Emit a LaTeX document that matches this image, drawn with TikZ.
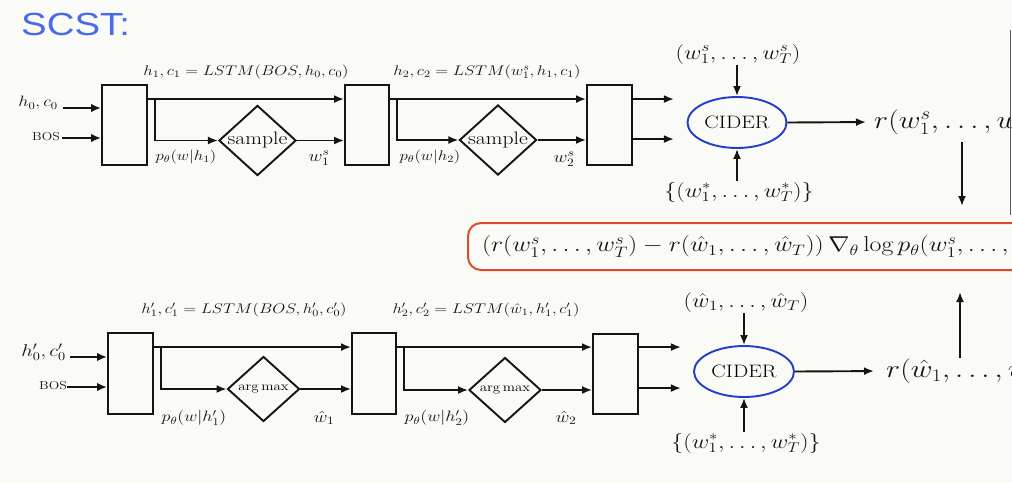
\documentclass[tikz,border=0pt]{standalone}
\usepackage{fix-cm}
\usepackage{fontspec}
\newfontfamily\titlefont{Liberation Sans}
\usetikzlibrary{arrows.meta,shapes.geometric,calc}
\definecolor{scstblue}{RGB}{75,105,235}
\definecolor{ciderblue}{RGB}{35,60,205}
\definecolor{fred}{RGB}{225,75,45}
\definecolor{bgcol}{RGB}{250,250,247}
\definecolor{ink}{RGB}{20,20,20}
\newcommand{\sx}[1]{\scalebox{1.2}[1]{#1}}
\newcommand{\fs}[1]{\fontsize{#1}{#1}\selectfont}
\tikzset{
  lnk/.style={line width=1.9pt, draw=ink, -{Latex[length=10pt,width=8pt]}},
  inlnk/.style={line width=2.6pt, draw=ink, -{Latex[length=10pt,width=8.5pt]}},
  cellbox/.style={draw=ink, line width=1.9pt, minimum width=45pt, minimum height=80pt, inner sep=0pt},
  decide/.style={diamond, draw=ink, line width=1.9pt, inner sep=0pt, minimum width=72pt, minimum height=65pt, aspect=1.1},
  cider/.style={ellipse, draw=ciderblue, line width=1.9pt, inner sep=0pt, minimum width=99pt, minimum height=51pt, font=\fs{18}},
  lbl/.style={inner sep=1pt, text=ink, font=\fs{14}},
  big/.style={inner sep=1pt, text=ink, font=\fs{20}},
}
\begin{document}
\begin{tikzpicture}[x=1pt,y=-1pt]
\useasboundingbox (0,0) rectangle (1012,483);
\clip (0,0) rectangle (1012,483);
\fill[bgcol] (0,0) rectangle (1012,483);
\draw[gray!70!black, line width=0.8pt] (1010.5,30) -- (1010.5,215);

% title
\node[anchor=west, inner sep=0pt, text=scstblue, font=\fs{32}\titlefont] (title) at (21,24) {\sx{SCST:}};

% ---------------- top row ----------------
\node[cellbox] (b1) at (124.5,125) {};
\node[cellbox, minimum width=44pt] (b2) at (367,125) {};
\node[cellbox] (b3) at (609.5,125) {};
\node[decide, font=\fs{18}] (d1) at (257.5,140.5) {\sx{sample}};
\node[decide, font=\fs{18}] (d2) at (498,140) {\sx{sample}};
\node[cider] (c1) at (737,122.5) {\sx{CIDER}};

\node[lbl, anchor=east, font=\fs{15}] (hc0) at (59,103) {\sx{$h_0, c_0$}};
\node[lbl, anchor=east, font=\fs{11.5}] (bos1) at (61,137) {\sx{BOS}};
\coordinate (i1) at (63,108);
\coordinate (i2) at (62,138);
\draw[inlnk] (i1) -- (i1 -| b1.west);
\draw[inlnk] (i2) -- (i2 -| b1.west);

\node[lbl] (lstm1) at (246,72) {\sx{$h_1, c_1 = LSTM(BOS, h_0, c_0)$}};
\node[lbl] (lstm2) at (487,72) {\sx{$h_2, c_2 = LSTM(w_1^s, h_1, c_1)$}};

\draw[lnk] ([yshift=-15pt]b1.north east) -- ([yshift=-15pt]b2.north west);
\draw[lnk] ([xshift=7pt,yshift=-15pt]b1.north east) |- (d1.west);
\draw[lnk] (d1.east) -- (d1.east -| b2.west);
\draw[lnk] ([yshift=-15pt]b2.north east) -- ([yshift=-15pt]b3.north west);
\draw[lnk] ([xshift=7pt,yshift=-15pt]b2.north east) |- (d2.west);
\draw[lnk] (d2.east) -- (d2.east -| b3.west);

\node[lbl] (p1) at (186,157) {\sx{$p_\theta(w|h_1)$}};
\node[lbl, font=\fs{16}] (w1) at (319,158) {\sx{$w_1^s$}};
\node[lbl] (p2) at (430,157) {\sx{$p_\theta(w|h_2)$}};
\node[lbl, font=\fs{16}] (w2) at (564,159) {\sx{$w_2^s$}};

\draw[lnk] ([yshift=-15pt]b3.north east) -- ++(41,0) coordinate (o1);
\draw[lnk] ([yshift=-55pt]b3.north east) -- ++(41,0) coordinate (o2);

\node[big] (samp) at (738,54) {\sx{$(w_1^s,\ldots,w_T^s)$}};
\node[big] (ref1) at (739,192) {\sx{$\{(w_1^*,\ldots,w_T^*)\}$}};
\draw[lnk] (c1.north |- samp.south) -- (c1.north);
\draw[lnk] (c1.south |- ref1.north) -- (c1.south);
\node[inner sep=0pt, anchor=west, text=ink, font=\fs{25}] (r1) at (874,122) {\sx{$r(w_1^s,\ldots,w_T^s)$}};
\draw[lnk, shorten >=8pt] (c1.east) -- (r1.west);

% ---------------- formula ----------------
\node[draw=fred, line width=2pt, rounded corners=13pt, anchor=west, minimum height=47pt, inner xsep=14pt, text=ink, font=\fs{21.5}] (fb) at (467,246.5)
  {\sx{$(r(w_1^s,\ldots,w_T^s)-r(\hat w_1,\ldots,\hat w_T))\,\nabla_\theta \log p_\theta(w_1^s,\ldots,w_T^s)$}};

\coordinate (dn) at (962,142);
\draw[lnk, shorten >=16pt] (dn) -- (dn |- fb.north);
\coordinate (up) at (960,358);
\draw[lnk, shorten >=21pt] (up) -- (up |- fb.south);

% ---------------- bottom row ----------------
\node[cellbox, minimum height=81pt] (e1) at (130.5,373.5) {};
\node[cellbox, minimum width=44pt, minimum height=81pt] (e2) at (374,373.5) {};
\node[cellbox] (e3) at (615.5,374) {};
\node[decide, font=\fs{12.5}] (f1) at (263.5,389) {\sx{$\arg\max$}};
\node[decide, font=\fs{12.5}] (f2) at (505,390) {\sx{$\arg\max$}};
\node[cider, minimum width=100pt] (c2) at (744,371.5) {\sx{CIDER}};

\node[lbl, anchor=east, font=\fs{17}] (hc0b) at (67,352) {\sx{$h_0', c_0'$}};
\node[lbl, anchor=east, font=\fs{11.5}] (bos2) at (68,386) {\sx{BOS}};
\coordinate (j1) at (70,357);
\coordinate (j2) at (67,387);
\draw[inlnk] (j1) -- (j1 -| e1.west);
\draw[inlnk] (j2) -- (j2 -| e1.west);

\node[lbl] (lstm3) at (244,310) {\sx{$h_1', c_1' = LSTM(BOS, h_0', c_0')$}};
\node[lbl] (lstm4) at (486,310) {\sx{$h_2', c_2' = LSTM(\hat w_1, h_1', c_1')$}};

\draw[lnk] ([yshift=-15pt]e1.north east) -- ([yshift=-15pt]e2.north west);
\draw[lnk] ([xshift=7pt,yshift=-15pt]e1.north east) |- (f1.west);
\draw[lnk] (f1.east) -- (f1.east -| e2.west);
\draw[lnk] ([yshift=-15pt]e2.north east) -- ([yshift=-14pt]e3.north west);
\draw[lnk] ([xshift=7pt,yshift=-15pt]e2.north east) |- (f2.west);
\draw[lnk] (f2.east) -- (f2.east -| e3.west);

\node[lbl, font=\fs{15}] (q1) at (194,418) {\sx{$p_\theta(w|h_1')$}};
\node[lbl, font=\fs{16}] (v1) at (324,418) {\sx{$\hat w_1$}};
\node[lbl, font=\fs{15}] (q2) at (437,418) {\sx{$p_\theta(w|h_2')$}};
\node[lbl, font=\fs{16}] (v2) at (566,418) {\sx{$\hat w_2$}};

\draw[lnk] ([yshift=-14pt]e3.north east) -- ++(42,0) coordinate (o3);
\draw[lnk] ([yshift=-55pt]e3.north east) -- ++(42,0) coordinate (o4);

\node[big] (greedy) at (746,302) {\sx{$(\hat w_1,\ldots,\hat w_T)$}};
\node[big] (ref2) at (746,443) {\sx{$\{(w_1^*,\ldots,w_T^*)\}$}};
\draw[lnk] (c2.north |- greedy.south) -- (c2.north);
\draw[lnk] (c2.south |- ref2.north) -- (c2.south);
\node[inner sep=0pt, anchor=west, text=ink, font=\fs{25}] (r2) at (886,371) {\sx{$r(\hat w_1,\ldots,\hat w_T)$}};
\draw[lnk, shorten >=12pt] (c2.east) -- (r2.west);
\end{tikzpicture}
\end{document}
